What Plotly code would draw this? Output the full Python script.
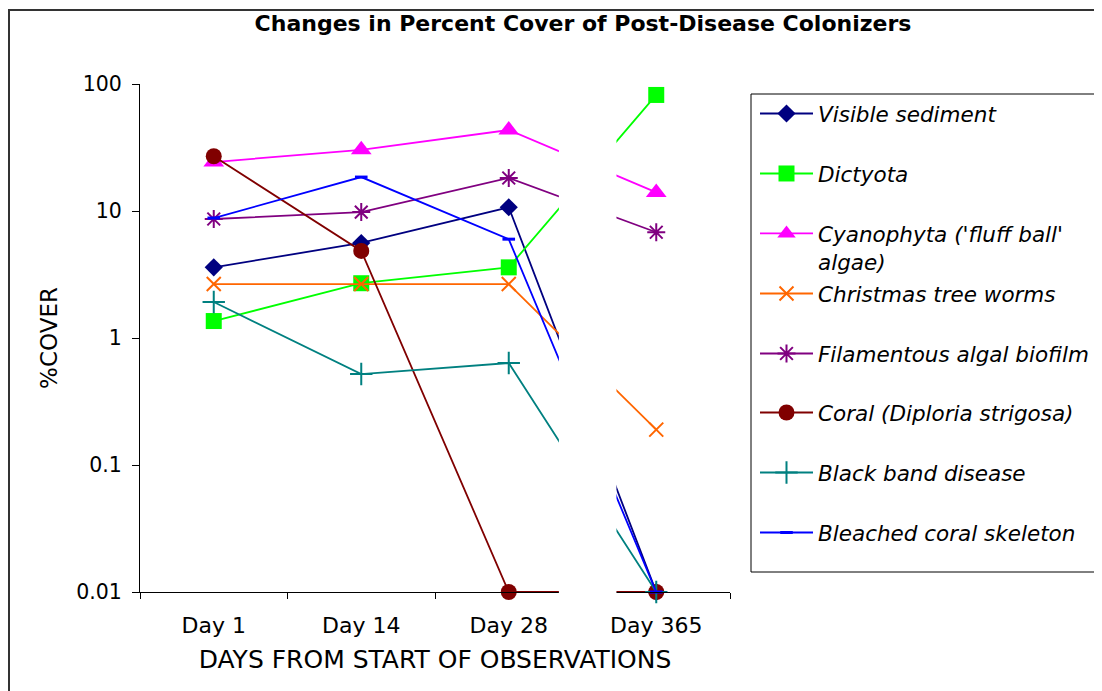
import plotly.graph_objects as go

days = ["Day 1", "Day 14", "Day 28", "Day 365"]
visible_sediment = [3.6, 5.6, 10.7, 0.01]
dictyota = [1.36, 2.7, 3.6, 82]
cyanophyta = [24.3, 30.3, 43.4, 14.0]
xmas_worms = [2.66, 2.66, 2.66, 0.19]
filamentous = [8.65, 9.8, 18.2, 6.8]
coral = [27.0, 4.85, 0.01, 0.01]
black_band = [1.92, 0.52, 0.635, 0.01]
bleached = [8.8, 18.5, 6.0, 0.01]

series_names = [
    "Visible sediment", "Dictyota", "Cyanophyta ('fluff ball'<br>algae)",
    "Christmas tree worms", "Filamentous algal biofilm",
    "Coral (Diploria strigosa)", "Black band disease", "Bleached coral skeleton",
]
series_values = [visible_sediment, dictyota, cyanophyta, xmas_worms,
                 filamentous, coral, black_band, bleached]
colors = ["#000080", "#00FF00", "#FF00FF", "#FF6600",
          "#800080", "#800000", "#008080", "#0000FF"]
symbols = ["diamond", "square", "triangle-up", "x-thin",
           "asterisk", "circle", "cross-thin", "line-ew"]
sizes = [14, 16, 18, 14, 15, 16, 16, 9]

FONT = "DejaVu Sans"
OFF = 8  # page body offset of the figure inside the browser window

# window-pixel helpers (plot area occupies 140..730 x, 84..592 y in the window)
def px_x(px):
    return (px - 140) / 590.0

def px_y(py):
    return (592 - py) / 508.0

fig = go.Figure()
legend_centers = [112, 172, 232, 292, 352, 411, 471, 531]
layout_legends = {}
for i, (name, vals, col, sym, sz) in enumerate(zip(series_names, series_values, colors, symbols, sizes)):
    lname = "legend" if i == 0 else f"legend{i+1}"
    open_sym = sym in ("x-thin", "asterisk", "cross-thin", "line-ew")
    marker = dict(symbol=sym, size=sz, color=col,
                  line=dict(color=col, width=(2 if open_sym else 0)))
    if sym == "line-ew":
        marker["line"]["width"] = 3
    fig.add_trace(go.Scatter(
        x=days, y=vals, name=name, mode="lines+markers",
        line=dict(color=col, width=1.8), marker=marker,
        cliponaxis=False, legend=lname, showlegend=True,
    ))
    layout_legends[lname] = dict(
        x=px_x(755), xanchor="left",
        y=px_y(legend_centers[i] - 19), yanchor="top",
        bgcolor="rgba(0,0,0,0)", borderwidth=0,
        font=dict(family=FONT, size=21.5, color="black", style="italic"),
        valign="top", itemwidth=53, visible=True,
    )

shapes = [
    # broken-axis gap between Day 28 and Day 365
    dict(type="rect", xref="x", yref="paper", x0=2.34, x1=2.73, y0=-0.02, y1=1.0,
         fillcolor="white", line=dict(width=0), layer="above"),
    # legend frame
    dict(type="rect", xref="paper", yref="paper", x0=px_x(751), x1=px_x(1099),
         y0=px_y(572), y1=px_y(94), line=dict(color="black", width=1),
         fillcolor="rgba(0,0,0,0)", layer="below"),
    # chart area frame
    dict(type="rect", xref="paper", yref="paper", x0=px_x(9), x1=px_x(1130),
         y0=px_y(730), y1=px_y(10), line=dict(color="#333333", width=2),
         fillcolor="rgba(0,0,0,0)", layer="below"),
]

fig.update_layout(
    width=1102, height=691,
    margin=dict(l=140 - OFF, r=1102 - 730 + OFF, t=84 - OFF, b=691 - 592 + OFF,
                autoexpand=False),
    paper_bgcolor="white", plot_bgcolor="white",
    showlegend=True,
    font=dict(family=FONT, size=19, color="black"),
    title=dict(text="<b>Changes in Percent Cover of Post-Disease Colonizers</b>",
               x=(583 - OFF) / 1102, xref="container", xanchor="center",
               y=1 - (23 - OFF) / 691, yref="container", yanchor="middle",
               font=dict(family=FONT, size=22, color="black")),
    shapes=shapes,
    **layout_legends,
)
fig.update_xaxes(
    type="category", range=[-0.5, 3.5], showgrid=False, zeroline=False,
    showline=True, linecolor="black", linewidth=1,
    ticks="outside", ticklen=6, tickcolor="black", tickson="boundaries",
    tickfont=dict(family=FONT, size=22), ticklabelstandoff=14,
    title=dict(text="DAYS FROM START OF OBSERVATIONS",
               font=dict(family=FONT, size=25), standoff=13),
)
fig.update_yaxes(
    type="log", range=[-2, 2], showgrid=False, zeroline=False,
    showline=True, linecolor="black", linewidth=1,
    ticks="outside", ticklen=7, tickcolor="black",
    tickvals=[0.01, 0.1, 1, 10, 100], ticktext=["0.01", "0.1", "1", "10", "100"],
    tickfont=dict(family=FONT, size=20.5), ticklabelstandoff=6,
    title=dict(text="%COVER", font=dict(family=FONT, size=23), standoff=12),
)

fig.write_html("out.html")
